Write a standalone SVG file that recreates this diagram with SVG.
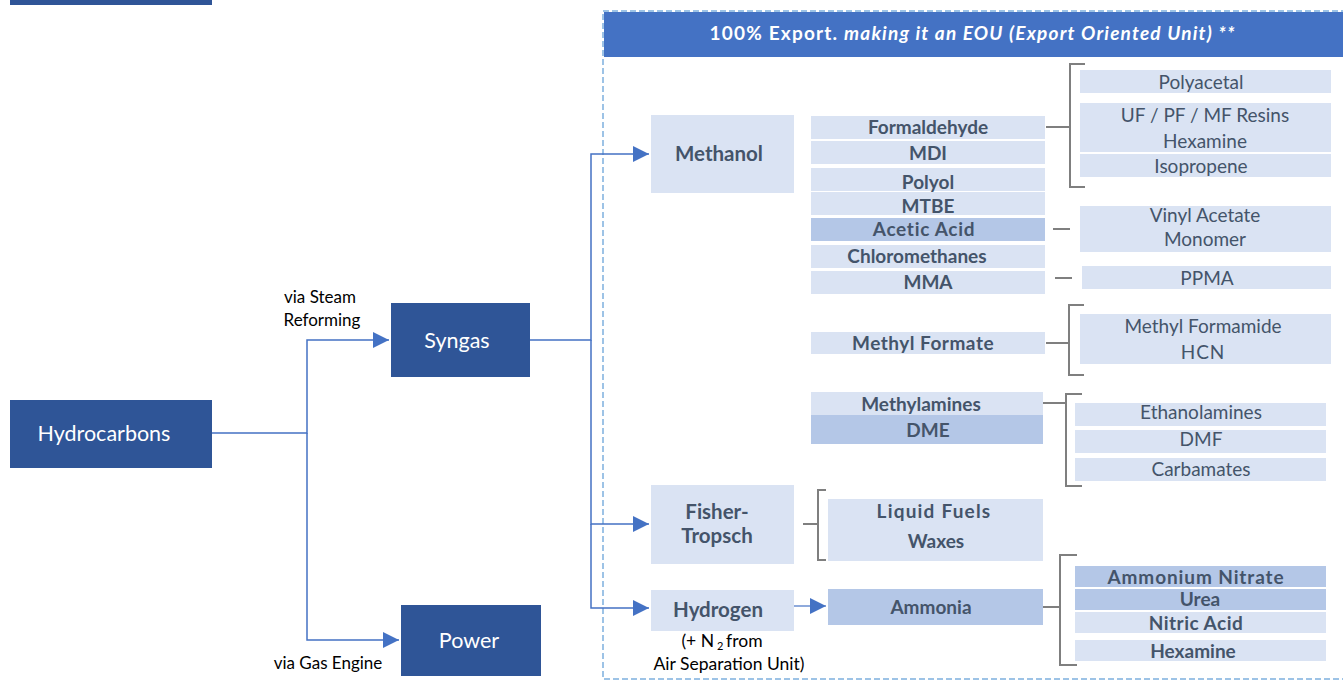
<svg xmlns="http://www.w3.org/2000/svg" width="1343" height="688" viewBox="0 0 1343 688">
<defs>
<style>
.dk{fill:#2F5597}
.lt{fill:#DAE3F3}
.md{fill:#B4C7E7}
.wt{font-family:Lato,"Liberation Sans",sans-serif;font-size:21.5px;fill:#fff;text-anchor:middle}
.b{font-family:Lato,"Liberation Sans",sans-serif;font-size:19px;font-weight:bold;fill:#44546A;text-anchor:middle}
.b2{font-family:Lato,"Liberation Sans",sans-serif;font-size:20.5px;font-weight:bold;fill:#44546A;text-anchor:middle}
.r{font-family:Lato,"Liberation Sans",sans-serif;font-size:19px;fill:#44546A;text-anchor:middle}
.k{font-family:Lato,"Liberation Sans",sans-serif;font-size:17px;fill:#000;text-anchor:middle}
.k2{font-family:Lato,"Liberation Sans",sans-serif;font-size:17.5px;fill:#000;text-anchor:middle}
.ln{stroke:#4472C4;stroke-width:1.5;fill:none}
.br{stroke:#7F7F7F;stroke-width:2;fill:none}
</style>
<marker id="ah" viewBox="0 0 10 10" refX="10" refY="5" markerWidth="16" markerHeight="16" markerUnits="userSpaceOnUse" orient="auto"><path d="M0,0 L10,5 L0,10 z" fill="#4472C4"/></marker>
</defs>
<rect x="10" y="0" width="202" height="5" class="dk"/>
<g id="container">
<rect x="603" y="11" width="745" height="668" fill="none" stroke="#9DC3E6" stroke-width="2" stroke-dasharray="6 3"/>
<rect x="604" y="12" width="740" height="45" fill="#4472C4"/>
<text x="972" y="40" font-family="Lato,'Liberation Sans',sans-serif" font-size="19" font-weight="bold" fill="#fff" text-anchor="middle" textLength="525" lengthAdjust="spacing">100% Export. <tspan font-style="italic">making it an EOU (Export Oriented Unit) **</tspan></text>
</g>
<g id="connectors">
<path class="ln" d="M212,433 H307 V340 H389" marker-end="url(#ah)"/>
<path class="ln" d="M307,433 V640 H399" marker-end="url(#ah)"/>
<path class="ln" d="M530,340 H591 V154 H649" marker-end="url(#ah)"/>
<path class="ln" d="M591,340 V524 H649" marker-end="url(#ah)"/>
<path class="ln" d="M591,524 V608 H649" marker-end="url(#ah)"/>
<path d="M794,606 H826" stroke="#8FAADC" stroke-width="2" fill="none" marker-end="url(#ah)"/>
<path class="br" d="M1046,127 H1070 M1085,64 H1070 V187 H1085"/>
<path class="br" d="M1053,229 H1070"/>
<path class="br" d="M1055,278 H1072"/>
<path class="br" d="M1046,343 H1069 M1084,305 H1069 V375 H1084"/>
<path class="br" d="M1043,403 H1066 M1082,394 H1066 V486 H1082"/>
<path class="br" d="M803,524 H818 M826,490 H818 V560 H826"/>
<path class="br" d="M1043,607 H1060 M1077,555 H1060 V665 H1077"/>
</g>
<g id="hydrocarbons"><rect x="10" y="400" width="202" height="68" class="dk"/><text x="104" y="441" class="wt">Hydrocarbons</text></g>
<g id="syngas"><rect x="391" y="303" width="139" height="74" class="dk"/><text x="457" y="348" class="wt">Syngas</text></g>
<g id="power"><rect x="401" y="605" width="140" height="71" class="dk"/><text x="469" y="648" class="wt">Power</text></g>
<g id="lbl-steam"><text x="320" y="303" class="k">via Steam</text><text x="322" y="326" class="k">Reforming</text></g>
<g id="lbl-gas"><text x="328" y="669" class="k">via Gas Engine</text></g>
<g id="methanol"><rect x="651" y="115" width="143" height="78" class="lt"/><text x="719" y="161" class="b2">Methanol</text></g>
<g id="fisher"><rect x="651" y="485" width="143" height="79" class="lt"/><text x="717" y="519" class="b2">Fisher-</text><text x="717" y="543" class="b2">Tropsch</text></g>
<g id="hydrogen"><rect x="651" y="590" width="143" height="41" class="lt"/><text x="718" y="617" class="b2">Hydrogen</text></g>
<g id="lbl-n2"><text x="722" y="647" class="k2">(+ N<tspan font-size="11" dy="3"> 2 </tspan><tspan dy="-3">from</tspan></text><text x="729" y="670" class="k2">Air Separation Unit)</text></g>
<g id="ammonia"><rect x="828" y="589" width="215" height="36" class="md"/><text x="931" y="614" class="b">Ammonia</text></g>
<g id="liquidfuels"><rect x="828" y="499" width="215" height="62" class="lt"/><text x="934" y="518" class="b" letter-spacing="1.2">Liquid Fuels</text><text x="936" y="548" class="b">Waxes</text></g>
<g id="formaldehyde"><rect x="811" y="116" width="234" height="23" class="lt"/><text x="928" y="134" class="b">Formaldehyde</text></g>
<g id="mdi"><rect x="811" y="141" width="234" height="23" class="lt"/><text x="928" y="160" class="b">MDI</text></g>
<g id="polyol"><rect x="811" y="168" width="234" height="23" class="lt"/><text x="928" y="189" class="b">Polyol</text></g>
<g id="mtbe"><rect x="811" y="192" width="234" height="23" class="lt"/><text x="928" y="213" class="b">MTBE</text></g>
<g id="acetic"><rect x="811" y="218" width="234" height="23" class="md"/><text x="924" y="236" class="b" letter-spacing="0.7">Acetic Acid</text></g>
<g id="chloro"><rect x="811" y="245" width="234" height="23" class="lt"/><text x="917" y="263" class="b">Chloromethanes</text></g>
<g id="mma"><rect x="811" y="271" width="234" height="23" class="lt"/><text x="928" y="289" class="b">MMA</text></g>
<g id="methylformate"><rect x="811" y="332" width="234" height="22" class="lt"/><text x="923" y="350" class="b" letter-spacing="0.5">Methyl Formate</text></g>
<g id="methylamines"><rect x="811" y="392" width="232" height="23" class="lt"/><text x="921" y="411" class="b">Methylamines</text></g>
<g id="dme"><rect x="811" y="415" width="232" height="29" class="md"/><text x="928" y="437" class="b">DME</text></g>
<g id="polyacetal"><rect x="1080" y="70" width="251" height="23" class="lt"/><text x="1201" y="89" class="r">Polyacetal</text></g>
<g id="resins"><rect x="1080" y="103" width="251" height="49" class="lt"/><text x="1205" y="122" class="r">UF / PF / MF Resins</text><text x="1205" y="148" class="r">Hexamine</text></g>
<g id="isopropene"><rect x="1080" y="154" width="251" height="23" class="lt"/><text x="1201" y="173" class="r">Isopropene</text></g>
<g id="vam"><rect x="1080" y="206" width="251" height="46" class="lt"/><text x="1205" y="222" class="r">Vinyl Acetate</text><text x="1205" y="246" class="r">Monomer</text></g>
<g id="ppma"><rect x="1082" y="266" width="249" height="23" class="lt"/><text x="1207" y="285" class="r">PPMA</text></g>
<g id="formamide"><rect x="1080" y="314" width="251" height="50" class="lt"/><text x="1203" y="333" class="r">Methyl Formamide</text><text x="1203" y="359" class="r" letter-spacing="1">HCN</text></g>
<g id="ethanolamines"><rect x="1075" y="403" width="251" height="23" class="lt"/><text x="1201" y="419" class="r">Ethanolamines</text></g>
<g id="dmf"><rect x="1075" y="430" width="251" height="23" class="lt"/><text x="1201" y="446" class="r">DMF</text></g>
<g id="carbamates"><rect x="1075" y="458" width="251" height="23" class="lt"/><text x="1201" y="476" class="r">Carbamates</text></g>
<g id="ammnitrate"><rect x="1075" y="566" width="251" height="21" class="md"/><text x="1196" y="584" class="b" letter-spacing="0.9">Ammonium Nitrate</text></g>
<g id="urea"><rect x="1075" y="589" width="251" height="21" class="md"/><text x="1200" y="606" class="b">Urea</text></g>
<g id="nitric"><rect x="1075" y="612" width="251" height="21" class="lt"/><text x="1196" y="630" class="b" letter-spacing="0.5">Nitric Acid</text></g>
<g id="hexamine2"><rect x="1075" y="640" width="251" height="21" class="lt"/><text x="1193" y="658" class="b">Hexamine</text></g>
</svg>
